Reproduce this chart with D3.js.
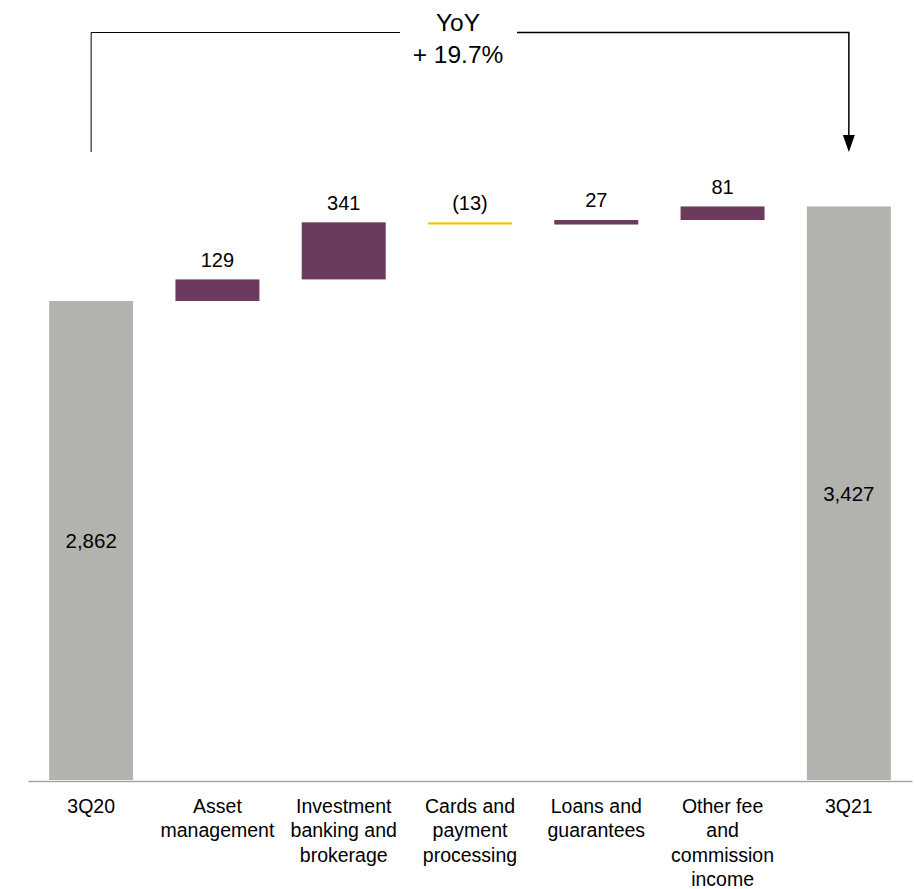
<!DOCTYPE html>
<html>
<head>
<meta charset="utf-8">
<script src="https://cdn.jsdelivr.net/npm/d3@7"></script>
<style>
  html, body { margin: 0; padding: 0; background: #ffffff; }
  svg { display: block; font-family: "Liberation Sans", Arial, sans-serif; }
</style>
</head>
<body>
<svg id="chart" width="915" height="889"></svg>
<script>
// Fee and commission income bridge, 3Q20 to 3Q21
const categories = [
  ["3Q20"],
  ["Asset", "management"],
  ["Investment", "banking and", "brokerage"],
  ["Cards and", "payment", "processing"],
  ["Loans and", "guarantees"],
  ["Other fee", "and", "commission", "income"],
  ["3Q21"]
];
const kinds = ["total", "delta", "delta", "delta", "delta", "delta", "total"];
const values = [2862, 129, 341, -13, 27, 81, 3427];
const valueLabels = ["2,862", "129", "341", "(13)", "27", "81", "3,427"];
const yoyLabel = ["YoY", "+ 19.7%"];

const colors = { total: "#b2b3af", up: "#6b3a5c", down: "#ffc000" };

const svg = d3.select("#chart");
const baseY = 780;

const x = d3.scaleBand()
  .domain(d3.range(categories.length))
  .range([28, 912])
  .paddingInner(0.335)
  .paddingOuter(0.1675);

const y = d3.scaleLinear().domain([0, 2862]).range([baseY, 301]);

// Running start/end for each step of the bridge
let running = 0;
const steps = values.map((v, i) => {
  let start, end;
  if (kinds[i] === "total") { start = 0; end = v; running = v; }
  else { start = running; end = running + v; running = end; }
  return { i, v, start, end, kind: kinds[i] };
});

// Bars
svg.append("g").selectAll("rect")
  .data(steps)
  .join("rect")
  .attr("x", d => x(d.i))
  .attr("width", x.bandwidth())
  .attr("y", d => y(Math.max(d.start, d.end)))
  .attr("height", d => Math.abs(y(d.start) - y(d.end)))
  .attr("fill", d => d.kind === "total" ? colors.total : (d.v >= 0 ? colors.up : colors.down));

// Value labels: inside totals, above the change bars
svg.append("g").selectAll("text")
  .data(steps)
  .join("text")
  .attr("x", d => x(d.i) + x.bandwidth() / 2)
  .attr("y", d => d.kind === "total"
    ? (y(0) + y(d.end)) / 2 + 7.5
    : y(Math.max(d.start, d.end)) - 12.5)
  .attr("text-anchor", "middle")
  .attr("font-size", d => d.kind === "total" ? 20.5 : 20)
  .attr("fill", "#000")
  .text((d, i) => valueLabels[i]);

// Category axis
const axis = d3.axisBottom(x).tickSize(0).tickFormat("");
const gAxis = svg.append("g")
  .attr("transform", `translate(0,${baseY + 1})`)
  .call(axis);
gAxis.select(".domain").attr("stroke", "#a6a6a6").attr("stroke-width", 1.5);

gAxis.selectAll(".tick").each(function (d) {
  const t = d3.select(this).append("text")
    .attr("text-anchor", "middle")
    .attr("font-size", 19.5)
    .attr("fill", "#000")
    .attr("y", 32);
  categories[d].forEach((line, k) => {
    t.append("tspan").attr("x", 0).attr("dy", k === 0 ? 0 : 24.3).text(line);
  });
});

// YoY bracket from first to last total
const xl = x(0) + x.bandwidth() / 2;
const xr = x(6) + x.bandwidth() / 2;
const topY = 32.5;
const bottomY = 152;
const gB = svg.append("g").attr("stroke", "#000").attr("stroke-width", 1).attr("fill", "none");
gB.append("path").attr("d", `M${xl},${bottomY}V${topY}H400`);
gB.append("path").attr("d", `M517,${topY}H${xr}V${bottomY - 14}`).attr("stroke-width", 1.5);
svg.append("path")
  .attr("d", `M${xr - 6},${bottomY - 17}L${xr + 6},${bottomY - 17}L${xr},${bottomY}Z`)
  .attr("fill", "#000");

svg.append("g").selectAll("text")
  .data(yoyLabel)
  .join("text")
  .attr("x", 458)
  .attr("y", (d, i) => 31 + i * 32)
  .attr("text-anchor", "middle")
  .attr("font-size", 24.5)
  .attr("fill", "#000")
  .text(d => d);
</script>
</body>
</html>
